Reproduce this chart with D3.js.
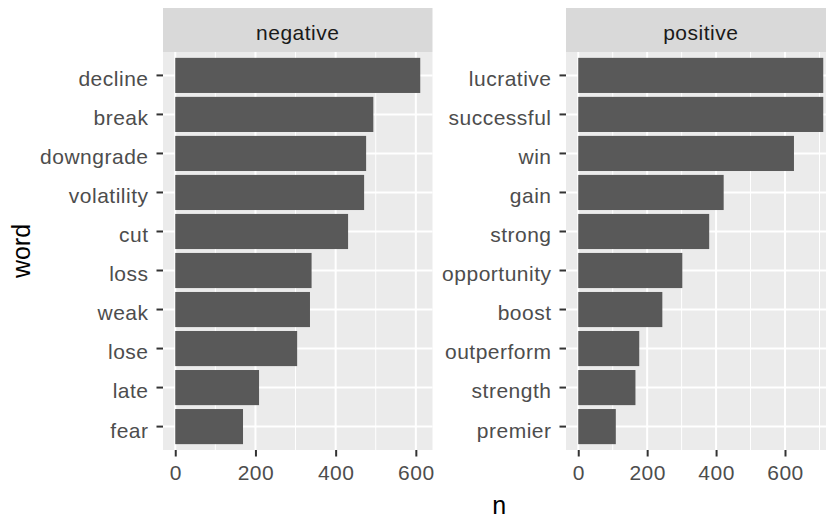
<!DOCTYPE html>
<html>
<head>
<meta charset="utf-8">
<script src="https://cdn.jsdelivr.net/npm/d3@7"></script>
<style>
  body { margin: 0; background: #fff; }
  svg text { font-family: "Liberation Sans", Arial, sans-serif; }
</style>
</head>
<body>
<div id="chart"></div>
<script>
// words, top to bottom
const negWords = ["decline", "break", "downgrade", "volatility", "cut", "loss", "weak", "lose", "late", "fear"]
const negCounts = [611, 494, 476, 471, 431, 340, 336, 304, 209, 169]

const posWords = ["lucrative", "successful", "win", "gain", "strong", "opportunity", "boost", "outperform", "strength", "premier"]
const posCounts = [711, 711, 626, 422, 380, 302, 244, 177, 166, 109]

const facetNames = ["negative", "positive"]
const xTicks = [0, 200, 400, 600]
const xMinor = [100, 300, 500, 700]

const width = 826, height = 519
const panelTop = 52, panelBottom = 450, stripTop = 8
const panelW = 269.5
const panelLefts = [163, 566]
const fontSize = 21

const facets = [
    {name: facetNames[0], data: negWords.map((w, i) => ({word: w, n: negCounts[i]}))},
    {name: facetNames[1], data: posWords.map((w, i) => ({word: w, n: posCounts[i]}))}
]

const svg = d3.select('#chart')
    .append('svg')
    .attr('width', width)
    .attr('height', height)

facets.forEach((f, k) => {
    const left = panelLefts[k]
    const maxN = d3.max(f.data, d => d.n)

    // ggplot-like 5% expansion
    const x = d3.scaleLinear()
        .domain([-0.05 * maxN, 1.05 * maxN])
        .range([left, left + panelW])

    const y = d3.scaleBand()
        .domain(f.data.map(d => d.word))
        .range([panelTop, panelBottom])
        .paddingInner(0.1)
        .paddingOuter(0.15)

    const g = svg.append('g')

    // strip
    g.append('rect')
        .attr('x', left).attr('y', stripTop)
        .attr('width', panelW).attr('height', panelTop - stripTop)
        .attr('fill', '#d9d9d9')
    g.append('text')
        .attr('x', left + panelW / 2)
        .attr('y', (stripTop + panelTop) / 2)
        .attr('dy', '0.46em')
        .attr('text-anchor', 'middle')
        .attr('font-size', fontSize)
        .attr('letter-spacing', 0.5)
        .attr('fill', '#1a1a1a')
        .text(f.name)

    // panel background
    g.append('rect')
        .attr('x', left).attr('y', panelTop)
        .attr('width', panelW).attr('height', panelBottom - panelTop)
        .attr('fill', '#ebebeb')

    // minor grid
    g.selectAll('.minor')
        .data(xMinor.filter(v => x(v) < left + panelW))
        .join('line')
        .attr('x1', d => x(d)).attr('x2', d => x(d))
        .attr('y1', panelTop).attr('y2', panelBottom)
        .attr('stroke', '#fff').attr('stroke-width', 1)

    // major grid
    g.selectAll('.vmajor')
        .data(xTicks)
        .join('line')
        .attr('x1', d => x(d)).attr('x2', d => x(d))
        .attr('y1', panelTop).attr('y2', panelBottom)
        .attr('stroke', '#fff').attr('stroke-width', 2)

    g.selectAll('.hmajor')
        .data(f.data)
        .join('line')
        .attr('x1', left).attr('x2', left + panelW)
        .attr('y1', d => y(d.word) + y.bandwidth() / 2)
        .attr('y2', d => y(d.word) + y.bandwidth() / 2)
        .attr('stroke', '#fff').attr('stroke-width', 2)

    // bars
    g.selectAll('.bar')
        .data(f.data)
        .join('rect')
        .attr('x', x(0))
        .attr('y', d => y(d.word))
        .attr('width', d => x(d.n) - x(0))
        .attr('height', y.bandwidth())
        .attr('fill', '#595959')

    // axes
    const yAxis = g.append('g')
        .attr('transform', `translate(${left},0)`)
        .call(d3.axisLeft(y).tickSize(6.5).tickPadding(8))
    const xAxis = g.append('g')
        .attr('transform', `translate(0,${panelBottom})`)
        .call(d3.axisBottom(x).tickValues(xTicks).tickFormat(d3.format('d')).tickSize(6.5).tickPadding(9))

    ;[yAxis, xAxis].forEach(a => {
        a.select('.domain').remove()
        a.selectAll('.tick line').attr('stroke', '#333').attr('stroke-width', 2)
        a.selectAll('.tick text')
            .attr('font-size', fontSize)
            .attr('letter-spacing', 0.5)
            .attr('font-family', '"Liberation Sans", Arial, sans-serif')
            .attr('fill', '#4d4d4d')
    })
    yAxis.selectAll('.tick text').attr('dy', '0.52em')
})

// axis titles
svg.append('text')
    .attr('transform', `translate(30,${(panelTop + panelBottom) / 2}) rotate(-90)`)
    .attr('text-anchor', 'middle')
    .attr('font-size', 25)
    .attr('fill', '#000')
    .text('word')

svg.append('text')
    .attr('x', (panelLefts[0] + panelLefts[1] + panelW) / 2)
    .attr('y', 514)
    .attr('text-anchor', 'middle')
    .attr('font-size', 25)
    .attr('fill', '#000')
    .text('n')
</script>
</body>
</html>
